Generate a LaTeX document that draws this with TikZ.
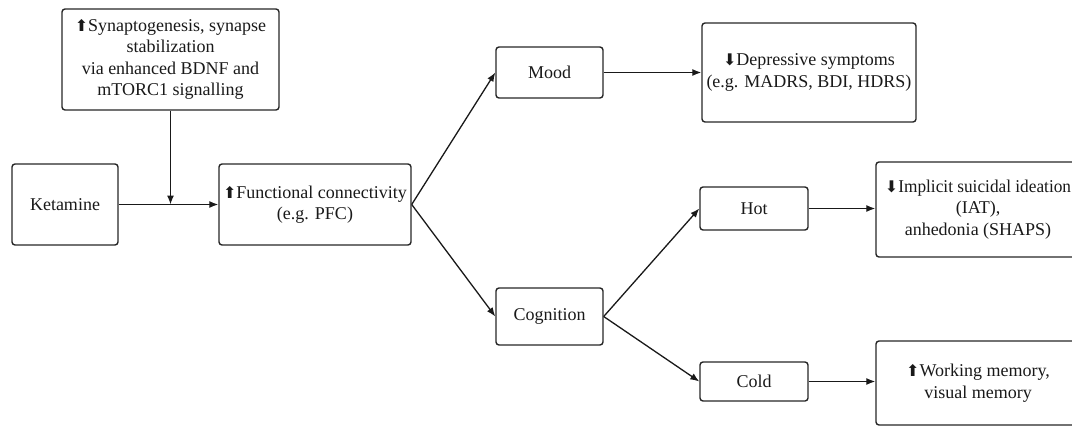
\documentclass[tikz,border=0pt]{standalone}
\usepackage{fontspec}
\setmainfont{Liberation Serif}
\newfontfamily\arrowfont{DejaVu Sans}
\usepackage{xcolor}
\usetikzlibrary{arrows.meta}

\newcommand{\upmark}{{\arrowfont\fontsize{16}{16}\selectfont ⬆}}
\newcommand{\downmark}{{\arrowfont\fontsize{16}{16}\selectfont ⬇}}

\tikzset{
  stepbox/.style={draw=black!85, line width=1.4pt, rounded corners=3pt, align=center,
    inner sep=2pt, text=black!90, font=\fontsize{18}{21.5}\selectfont},
  link/.style={-{Latex[length=9pt,width=7pt]}, line width=1.3pt, black!90}
}

\begin{document}
\begin{tikzpicture}[x=1pt, y=-1pt]
    \useasboundingbox (0,0) rectangle (1072,426);
    \clip (0,0) rectangle (1072,426);
    % left part
    \node[stepbox, minimum width=217pt, minimum height=101pt] (synapto) at (170.5,59.5)
        {\upmark Synaptogenesis, synapse\\stabilization\\via enhanced BDNF and\\mTORC1 signalling};
    \node[stepbox, minimum width=106pt, minimum height=81pt] (ket) at (65,204.5) {Ketamine};
    \node[stepbox, minimum width=192pt, minimum height=81pt] (func) at (315,204.5)
        {\upmark Functional connectivity\\(e.g. PFC)};
    % middle
    \node[stepbox, minimum width=107pt, minimum height=51pt] (mood) at (549.5,72.5) {Mood};
    \node[stepbox, minimum width=107pt, minimum height=57pt] (cog) at (549.5,316.5) {Cognition};
    \node[stepbox, minimum width=108pt, minimum height=43pt] (hot) at (754,208.5) {Hot};
    \node[stepbox, minimum width=108pt, minimum height=39pt] (cold) at (754,381.5) {Cold};
    % outcomes
    \node[stepbox, minimum width=214pt, minimum height=99pt] (dep) at (809,72.5)
        {\downmark Depressive symptoms\\(e.g. MADRS, BDI, HDRS)};
    \node[stepbox, minimum width=204pt, minimum height=95pt] (impl) at (978,209.5)
        {\downmark{\addfontfeatures{FakeStretch=0.96}Implicit suicidal ideation}\\(IAT),\\anhedonia (SHAPS)};
    \node[stepbox, minimum width=204pt, minimum height=84pt] (work) at (978,383)
        {\upmark Working memory,\\visual memory};
    % connectors
    \coordinate (join) at (synapto.south |- ket.east);
    \draw[link] (ket.east) -- (func.west);
    \draw[link] (synapto.south) -- (join);
    \draw[link] (func.east) -- (mood.west);
    \draw[link] (func.east) -- (cog.west);
    \draw[link] (mood.east) -- (dep.west |- mood.east);
    \draw[link] (cog.east) -- (hot.west);
    \draw[link] (cog.east) -- (cold.west);
    \draw[link] (hot.east) -- (impl.west |- hot.east);
    \draw[link] (cold.east) -- (work.west |- cold.east);
\end{tikzpicture}
\end{document}
